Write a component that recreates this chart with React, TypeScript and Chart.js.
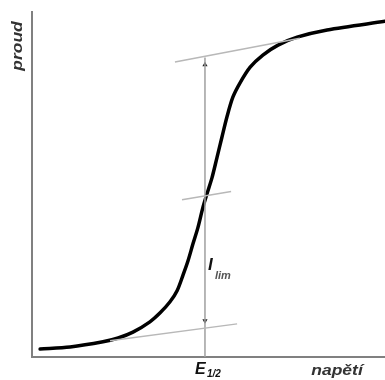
import React, { useEffect, useRef } from "react";
import { Chart, registerables } from "chart.js";

Chart.register(...registerables);

// S-shaped polarographic wave (napětí vs proud), arbitrary units 0..10
const curveV = [0.23, 1.08, 2.01, 2.44, 2.86, 3.34, 3.63, 3.91, 4.11, 4.28, 4.42, 4.56, 4.7, 4.84, 4.96, 5.1, 5.24, 5.38, 5.52, 5.69, 5.89, 6.18, 6.54, 6.97, 7.51, 8.36, 10];
const curveI = [0.23, 0.29, 0.44, 0.55, 0.72, 1.02, 1.28, 1.6, 1.92, 2.38, 2.79, 3.28, 3.75, 4.33, 4.74, 5.2, 5.78, 6.37, 6.95, 7.53, 7.94, 8.4, 8.75, 9.04, 9.27, 9.48, 9.73];

const upperTangentV = [4.05, 7.59];
const upperTangentI = [8.55, 9.24];
const midTangentV = [4.25, 5.64];
const midTangentI = [4.56, 4.8];
const lowerTangentV = [2.21, 5.81];
const lowerTangentI = [0.47, 0.96];

const halfWaveV = 4.9; // E1/2
const limitTop = 8.68;
const limitBottom = 0.0;
const arrowI = [8.47, 1.05];

const xLabel = "napětí";
const yLabel = "proud";
const eLabel = "E";
const eSub = "1/2";
const iLabel = "I";
const iSub = "lim";

const pts = (xs: number[], ys: number[]) => xs.map((x, i) => ({ x, y: ys[i] }));

const textPlugin = {
  id: "texts",
  afterDraw(chart: any) {
    const { ctx, chartArea, scales } = chart;
    const xs = scales.x;
    const ys = scales.y;
    const vx = xs.getPixelForValue(halfWaveV);
    ctx.save();
    ctx.textBaseline = "alphabetic";
    // proud (rotated)
    ctx.save();
    ctx.translate(chartArea.left - 10, chartArea.top + 34);
    ctx.rotate(-Math.PI / 2);
    ctx.scale(1.25, 1);
    ctx.fillStyle = "#333";
    ctx.font = "italic bold 14px 'Liberation Sans', Arial, sans-serif";
    ctx.textAlign = "center";
    ctx.fillText(yLabel, 0, 0);
    ctx.restore();
    // napětí
    ctx.save();
    ctx.translate(chartArea.right - 48, chartArea.bottom + 18);
    ctx.scale(1.25, 1);
    ctx.fillStyle = "#333";
    ctx.font = "italic bold 14px 'Liberation Sans', Arial, sans-serif";
    ctx.textAlign = "center";
    ctx.fillText(xLabel, 0, 0);
    ctx.restore();
    // E1/2
    ctx.fillStyle = "#111";
    ctx.textAlign = "left";
    ctx.font = "italic bold 16px 'Liberation Sans', Arial, sans-serif";
    ctx.fillText(eLabel, vx - 10, chartArea.bottom + 17);
    ctx.font = "italic bold 10px 'Liberation Sans', Arial, sans-serif";
    ctx.fillText(eSub, vx + 2, chartArea.bottom + 20);
    // Ilim
    const iy = ys.getPixelForValue(2.52);
    ctx.fillStyle = "#111";
    ctx.font = "italic bold 17px 'Liberation Sans', Arial, sans-serif";
    ctx.fillText(iLabel, vx + 3, iy);
    ctx.fillStyle = "#555";
    ctx.font = "italic bold 11px 'Liberation Sans', Arial, sans-serif";
    ctx.fillText(iSub, vx + 10, iy + 9);
    ctx.restore();
  },
};

export default function App() {
  const ref = useRef<HTMLCanvasElement>(null);
  useEffect(() => {
    document.body.style.margin = "0";
    document.body.style.overflow = "hidden";
    const chart = new Chart(ref.current!, {
      type: "line",
      data: {
        datasets: [
          { data: pts(upperTangentV, upperTangentI), borderColor: "#b8b8b8", borderWidth: 1.5, pointRadius: 0 },
          { data: pts(midTangentV, midTangentI), borderColor: "#b8b8b8", borderWidth: 1.5, pointRadius: 0 },
          { data: pts(lowerTangentV, lowerTangentI), borderColor: "#b8b8b8", borderWidth: 1.5, pointRadius: 0 },
          {
            data: pts([halfWaveV, halfWaveV], [limitTop, limitBottom]),
            borderColor: "#a0a0a0",
            borderWidth: 1.5,
            pointRadius: 0,
          },
          {
            data: pts([halfWaveV, halfWaveV], arrowI),
            showLine: false,
            pointStyle: "triangle",
            pointRotation: [0, 180] as any,
            pointRadius: 3,
            pointBackgroundColor: "#222",
            pointBorderColor: "#222",
            pointBorderWidth: 0,
          } as any,
          {
            data: pts(curveV, curveI),
            borderColor: "#000",
            borderWidth: 3.5,
            pointRadius: 0,
            tension: 0.3,
            borderCapStyle: "round",
            borderJoinStyle: "round",
          } as any,
        ],
      },
      options: {
        animation: false,
        responsive: false,
        events: [],
        layout: { padding: { left: 32, top: 12, right: 0, bottom: 23 } },
        plugins: { legend: { display: false }, tooltip: { enabled: false } },
        scales: {
          x: {
            type: "linear",
            min: 0,
            max: 10,
            grid: { display: false, drawTicks: false },
            ticks: { display: false },
            border: { color: "#808080", width: 2 },
          },
          y: {
            type: "linear",
            min: 0,
            max: 10,
            grid: { display: false, drawTicks: false },
            ticks: { display: false },
            border: { color: "#808080", width: 2 },
          },
        },
      },
      plugins: [textPlugin],
    });
    return () => chart.destroy();
  }, []);
  return (
    <div style={{ width: 385, height: 380, overflow: "hidden" }}>
      <canvas ref={ref} width={389} height={380} style={{ display: "block" }} />
    </div>
  );
}
